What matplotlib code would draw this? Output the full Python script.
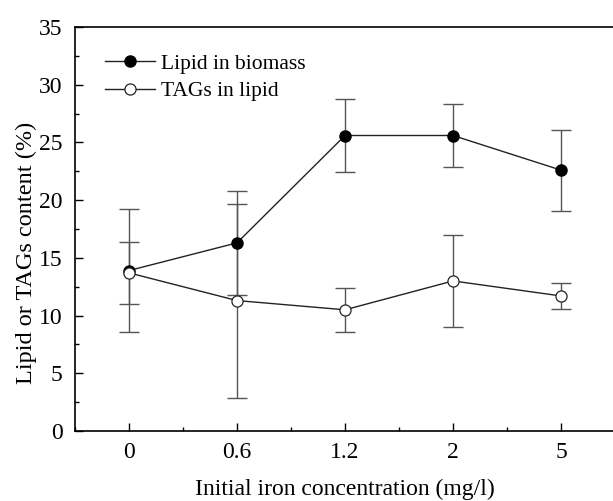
import numpy as np
import matplotlib
matplotlib.use('Agg')
from matplotlib import pyplot as plt
from matplotlib.ticker import MultipleLocator

# data
iron_labels = ['0', '0.6', '1.2', '2', '5']
lipid = [13.9, 16.3, 25.6, 25.6, 22.6]
lipid_err = [5.3, 4.5, 3.2, 2.7, 3.5]
tags = [13.7, 11.3, 10.5, 13.0, 11.7]
tags_err = [2.7, 8.4, 1.9, 4.0, 1.1]

plt.rcParams['font.family'] = ['Liberation Serif', 'DejaVu Serif']

fig = plt.figure(figsize=(6.13, 5.01), dpi=100)
W, H = 613.0, 501.0
ax = fig.add_axes([75 / W, (H - 431) / H, 540 / W, 404 / H])

x = np.arange(len(iron_labels))
ax.errorbar(x, lipid, yerr=lipid_err, fmt='none', ecolor='#555555',
            elinewidth=1.0, capsize=7, capthick=1.0)
ax.errorbar(x, tags, yerr=tags_err, fmt='none', ecolor='#555555',
            elinewidth=1.0, capsize=7, capthick=1.0)
ax.plot(x, lipid, '-o', color='#222222', lw=1.0, ms=8,
        mfc='black', mec='black', label='Lipid in biomass')
ax.plot(x, tags, '-o', color='#222222', lw=1.0, ms=8,
        mfc='white', mec='#222222', mew=0.9, label='TAGs in lipid')

ax.set_xlim(-0.5, 4.5)
ax.set_ylim(0, 35)
ax.set_xticks(x)
ax.set_xticklabels(iron_labels)
ax.xaxis.set_minor_locator(MultipleLocator(0.5))
ax.yaxis.set_major_locator(MultipleLocator(5))
ax.yaxis.set_minor_locator(MultipleLocator(2.5))
ax.tick_params(which='both', direction='in', top=False, right=False,
               labelsize=17, width=1.0)
ax.tick_params(which='major', length=6)
ax.tick_params(which='minor', length=3)
ax.tick_params(axis='x', pad=8)
ax.tick_params(axis='y', pad=9)
for s in ax.spines.values():
    s.set_linewidth(1.2)

ax.set_xlabel('Initial iron concentration (mg/l)', fontsize=17, labelpad=11)
ax.set_ylabel('Lipid or TAGs content (%)', fontsize=17.5, labelpad=1, y=0.44)

ax.legend(loc='upper left', frameon=False, fontsize=15.5, handlelength=2.3,
          handletextpad=0.3, borderaxespad=0.0, labelspacing=0.35,
          bbox_to_anchor=(0.04, 0.955))

fig.savefig('out.png', dpi=100)
